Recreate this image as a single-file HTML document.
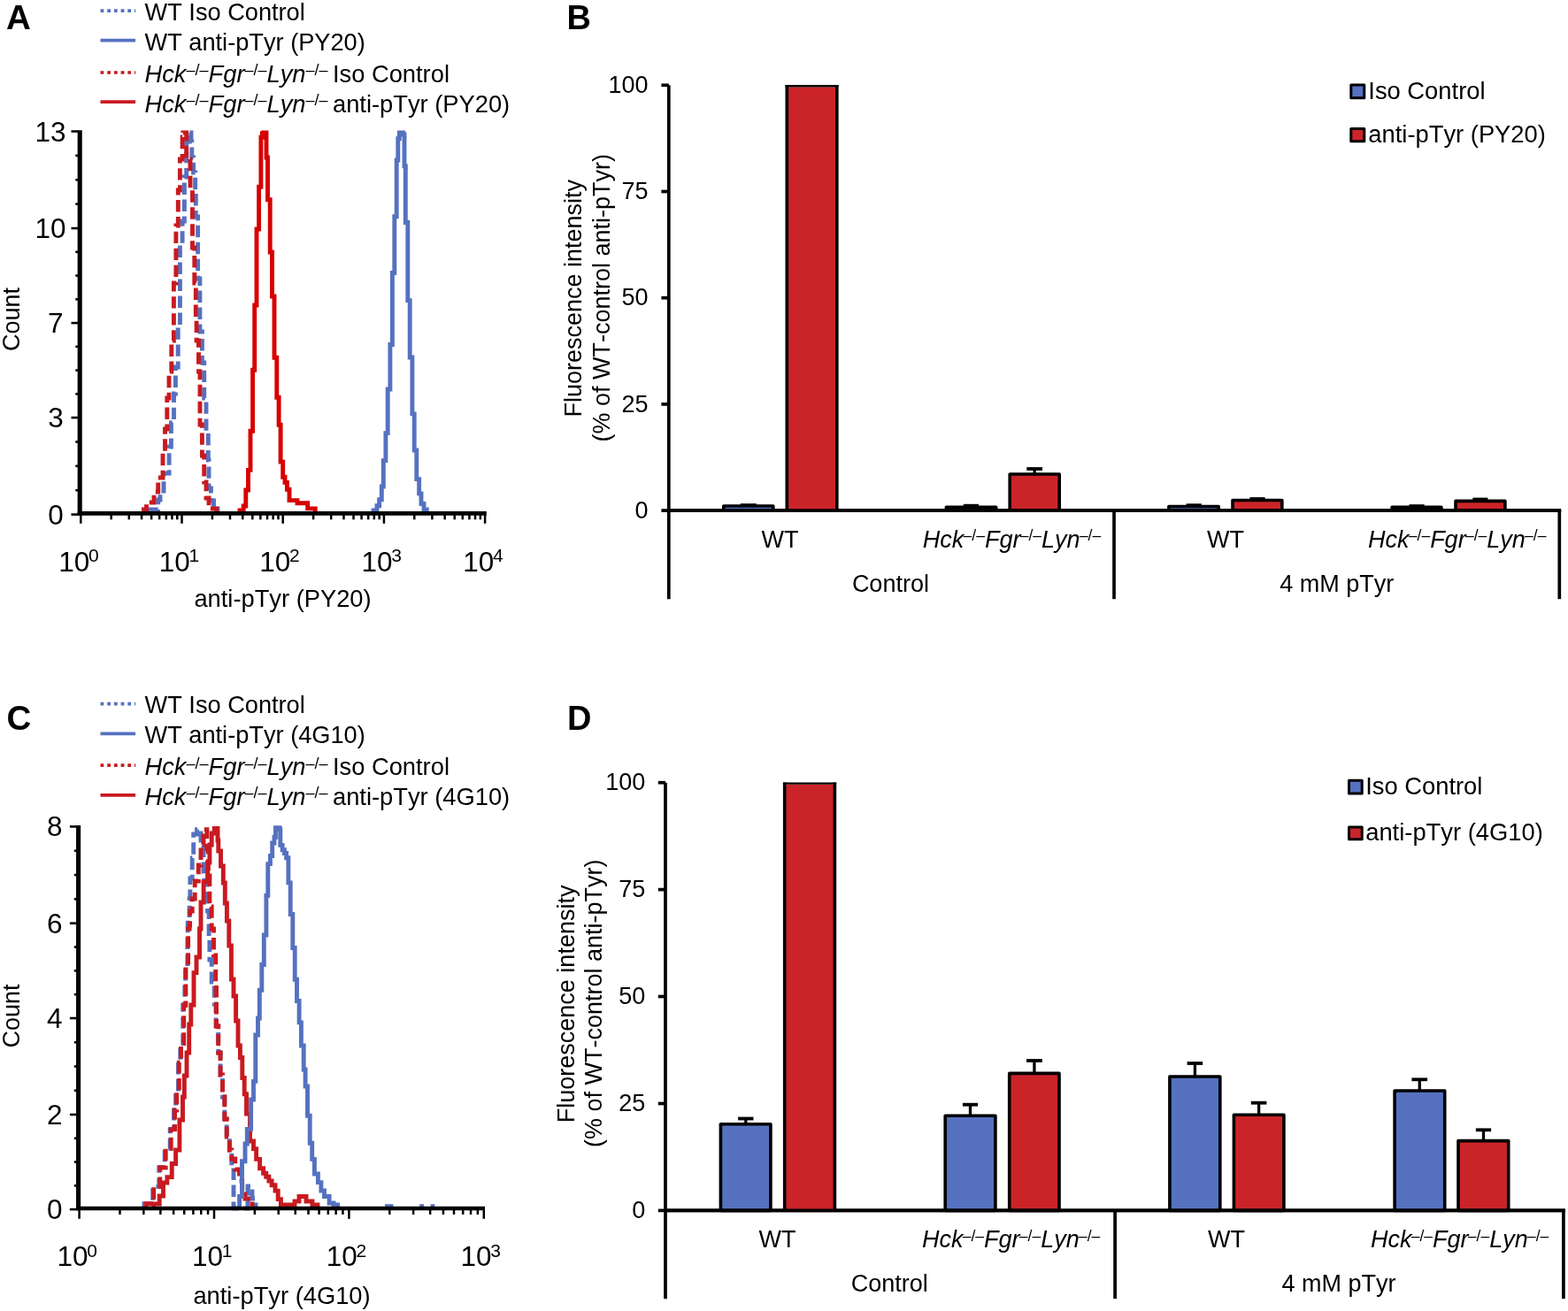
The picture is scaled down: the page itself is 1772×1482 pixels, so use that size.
<!DOCTYPE html>
<html><head><meta charset="utf-8"><title>Figure</title>
<style>html,body{margin:0;padding:0;background:#fff;}svg{display:block;font-kerning:none;}</style>
</head><body>
<svg width="1772" height="1482" viewBox="0 0 1772 1482" font-family="'Liberation Sans', sans-serif" fill="#000">
<rect x="0" y="0" width="1772" height="1482" fill="#fff"/>
<text x="7.1" y="32.5" font-size="38.5" text-anchor="start" font-weight="bold" font-style="normal">A</text>
<line x1="113.5" y1="12.2" x2="153.1" y2="12.2" stroke="#5571C0" stroke-width="3.7" stroke-dasharray="3.8 3.9"/>
<line x1="113.5" y1="45.7" x2="153.1" y2="45.7" stroke="#5571C0" stroke-width="3.7"/>
<line x1="113.5" y1="82" x2="153.1" y2="82" stroke="#C81A20" stroke-width="3.7" stroke-dasharray="3.8 3.9"/>
<line x1="113.5" y1="115.1" x2="153.1" y2="115.1" stroke="#C81A20" stroke-width="3.7"/>
<text x="163.5" y="22.6" font-size="27.2" text-anchor="start" font-weight="normal" font-style="normal">WT Iso Control</text>
<text x="163.5" y="56.8" font-size="27.2" text-anchor="start" font-weight="normal" font-style="normal">WT anti-pTyr (PY20)</text>
<text x="163.5" y="93" font-size="27.3"><tspan font-style="italic">Hck</tspan><tspan font-size="18" dx="0" dy="-7.6">–/–</tspan><tspan font-style="italic" dy="7.6">Fgr</tspan><tspan font-size="18" dx="0" dy="-7.6">–/–</tspan><tspan font-style="italic" dy="7.6">Lyn</tspan><tspan font-size="18" dx="0" dy="-7.6">–/–</tspan><tspan dx="-2.2" dy="7.6"> Iso Control</tspan></text>
<text x="163.5" y="126.6" font-size="27.3"><tspan font-style="italic">Hck</tspan><tspan font-size="18" dx="0" dy="-7.6">–/–</tspan><tspan font-style="italic" dy="7.6">Fgr</tspan><tspan font-size="18" dx="0" dy="-7.6">–/–</tspan><tspan font-style="italic" dy="7.6">Lyn</tspan><tspan font-size="18" dx="0" dy="-7.6">–/–</tspan><tspan dx="-2.2" dy="7.6"> anti-pTyr (PY20)</tspan></text>
<path d="M170,580.6 V576 H178.7 V565 H181 V555 H185 V535 H191.1 V505 H193.4 V478 H196.5 V445 H198.4 V415 H201.2 V370 H203.4 V280 H206.1 V250 H208.4 V200 H210.7 V160 H211.5 V150 H216 V160 H216.8 V178 H218.6 V195 H220.6 V215 H221.3 V245 H223.6 V315 H225.9 V375 H228.4 V410 H230.7 V450 H233 V490 H235.3 V520 H236 V552 H238.4 V566 H241.5 V575 H246 V580.6" fill="none" stroke="#5571C0" stroke-width="4.9" stroke-dasharray="13.4 5.6" stroke-linejoin="miter" stroke-linecap="butt"/>
<path d="M162.4,580.6 V576 H165.5 V568 H174 V556 H178.7 V540 H184 V510 H186.5 V485 H188.8 V450 H191 V420 H193.8 V385 H196.4 V320 H198.9 V255 H201.3 V215 H203.4 V180 H206.1 V155 H206.9 V150 H210.7 V180 H215 V215 H217.5 V280 H219.8 V320 H221.3 V360 H222.1 V385 H224.5 V420 H226 V480 H228.4 V515 H230.7 V545 H233 V563 H236 V575 H244.6 V580.6" fill="none" stroke="#C81A20" stroke-width="4.9" stroke-dasharray="13.4 5.6" stroke-linejoin="miter" stroke-linecap="butt"/>
<path d="M271,580.6 V577 H275.2 V572 H277.8 V554 H280.5 V531.4 H283 V487.2 H285.6 V418.2 H287.7 V345 H290 V259 H292.6 V211.3 H294.9 V155.2 H296.4 V150.6 H298 V150 H301 V178 H302.5 V225.7 H305.2 V285 H307.5 V335 H310 V404.2 H312.8 V449.2 H315.1 V480.2 H317.1 V522.1 H319.7 V539.2 H322 V545.4 H324.4 V553.2 H327 V565.6 H336 V568.7 H347.7 V574.9 H356.2 V580.6" fill="none" stroke="#D70000" stroke-width="4.9" stroke-linejoin="miter" stroke-linecap="butt"/>
<path d="M422,580.6 V577 H426 V571.8 H428.6 V564.8 H431.3 V550 H433.3 V520.6 H435.9 V489.6 H438.2 V440 H440.9 V389.5 H443.4 V308.5 H445.8 V244.7 H448.2 V181 H449.8 V156.7 H451.3 V150 H455.5 V152 H457 V187.8 H458.3 V251.5 H460.8 V339.6 H463.2 V404 H465.9 V467.9 H468.2 V509 H470.8 V541.6 H473.6 V557.9 H476 V569.5 H479 V576 H482.2 V580.6" fill="none" stroke="#5571C0" stroke-width="4.9" stroke-linejoin="miter" stroke-linecap="butt"/>
<line x1="90.2" y1="147.2" x2="90.2" y2="582.8" stroke="#000" stroke-width="5.1"/>
<line x1="87.65" y1="580.4" x2="549.8" y2="580.4" stroke="#000" stroke-width="4.8"/>
<line x1="80.5" y1="148.5" x2="88.3" y2="148.5" stroke="#000" stroke-width="2.6"/>
<line x1="85.3" y1="175.89" x2="88.3" y2="175.89" stroke="#000" stroke-width="2.6"/>
<line x1="85.3" y1="203.28" x2="88.3" y2="203.28" stroke="#000" stroke-width="2.6"/>
<line x1="85.3" y1="230.66" x2="88.3" y2="230.66" stroke="#000" stroke-width="2.6"/>
<line x1="80.5" y1="258.05" x2="88.3" y2="258.05" stroke="#000" stroke-width="2.6"/>
<line x1="85.3" y1="284.81" x2="88.3" y2="284.81" stroke="#000" stroke-width="2.6"/>
<line x1="85.3" y1="311.58" x2="88.3" y2="311.58" stroke="#000" stroke-width="2.6"/>
<line x1="85.3" y1="338.34" x2="88.3" y2="338.34" stroke="#000" stroke-width="2.6"/>
<line x1="80.5" y1="365.1" x2="88.3" y2="365.1" stroke="#000" stroke-width="2.6"/>
<line x1="85.3" y1="391.85" x2="88.3" y2="391.85" stroke="#000" stroke-width="2.6"/>
<line x1="85.3" y1="418.6" x2="88.3" y2="418.6" stroke="#000" stroke-width="2.6"/>
<line x1="85.3" y1="445.35" x2="88.3" y2="445.35" stroke="#000" stroke-width="2.6"/>
<line x1="80.5" y1="472.1" x2="88.3" y2="472.1" stroke="#000" stroke-width="2.6"/>
<line x1="85.3" y1="499.48" x2="88.3" y2="499.48" stroke="#000" stroke-width="2.6"/>
<line x1="85.3" y1="526.85" x2="88.3" y2="526.85" stroke="#000" stroke-width="2.6"/>
<line x1="85.3" y1="554.23" x2="88.3" y2="554.23" stroke="#000" stroke-width="2.6"/>
<line x1="80.5" y1="581.6" x2="88.3" y2="581.6" stroke="#000" stroke-width="2.6"/>
<line x1="91.3" y1="581.8" x2="91.3" y2="591.8" stroke="#000" stroke-width="2.5"/>
<line x1="125.68" y1="581.8" x2="125.68" y2="587.3" stroke="#000" stroke-width="2.5"/>
<line x1="145.79" y1="581.8" x2="145.79" y2="587.3" stroke="#000" stroke-width="2.5"/>
<line x1="160.06" y1="581.8" x2="160.06" y2="587.3" stroke="#000" stroke-width="2.5"/>
<line x1="171.12" y1="581.8" x2="171.12" y2="587.3" stroke="#000" stroke-width="2.5"/>
<line x1="180.16" y1="581.8" x2="180.16" y2="587.3" stroke="#000" stroke-width="2.5"/>
<line x1="187.81" y1="581.8" x2="187.81" y2="587.3" stroke="#000" stroke-width="2.5"/>
<line x1="194.43" y1="581.8" x2="194.43" y2="587.3" stroke="#000" stroke-width="2.5"/>
<line x1="200.27" y1="581.8" x2="200.27" y2="587.3" stroke="#000" stroke-width="2.5"/>
<line x1="205.5" y1="581.8" x2="205.5" y2="591.8" stroke="#000" stroke-width="2.5"/>
<line x1="239.88" y1="581.8" x2="239.88" y2="587.3" stroke="#000" stroke-width="2.5"/>
<line x1="259.99" y1="581.8" x2="259.99" y2="587.3" stroke="#000" stroke-width="2.5"/>
<line x1="274.26" y1="581.8" x2="274.26" y2="587.3" stroke="#000" stroke-width="2.5"/>
<line x1="285.32" y1="581.8" x2="285.32" y2="587.3" stroke="#000" stroke-width="2.5"/>
<line x1="294.36" y1="581.8" x2="294.36" y2="587.3" stroke="#000" stroke-width="2.5"/>
<line x1="302.01" y1="581.8" x2="302.01" y2="587.3" stroke="#000" stroke-width="2.5"/>
<line x1="308.63" y1="581.8" x2="308.63" y2="587.3" stroke="#000" stroke-width="2.5"/>
<line x1="314.47" y1="581.8" x2="314.47" y2="587.3" stroke="#000" stroke-width="2.5"/>
<line x1="319.7" y1="581.8" x2="319.7" y2="591.8" stroke="#000" stroke-width="2.5"/>
<line x1="354.08" y1="581.8" x2="354.08" y2="587.3" stroke="#000" stroke-width="2.5"/>
<line x1="374.19" y1="581.8" x2="374.19" y2="587.3" stroke="#000" stroke-width="2.5"/>
<line x1="388.46" y1="581.8" x2="388.46" y2="587.3" stroke="#000" stroke-width="2.5"/>
<line x1="399.52" y1="581.8" x2="399.52" y2="587.3" stroke="#000" stroke-width="2.5"/>
<line x1="408.56" y1="581.8" x2="408.56" y2="587.3" stroke="#000" stroke-width="2.5"/>
<line x1="416.21" y1="581.8" x2="416.21" y2="587.3" stroke="#000" stroke-width="2.5"/>
<line x1="422.83" y1="581.8" x2="422.83" y2="587.3" stroke="#000" stroke-width="2.5"/>
<line x1="428.67" y1="581.8" x2="428.67" y2="587.3" stroke="#000" stroke-width="2.5"/>
<line x1="433.9" y1="581.8" x2="433.9" y2="591.8" stroke="#000" stroke-width="2.5"/>
<line x1="468.28" y1="581.8" x2="468.28" y2="587.3" stroke="#000" stroke-width="2.5"/>
<line x1="488.39" y1="581.8" x2="488.39" y2="587.3" stroke="#000" stroke-width="2.5"/>
<line x1="502.66" y1="581.8" x2="502.66" y2="587.3" stroke="#000" stroke-width="2.5"/>
<line x1="513.72" y1="581.8" x2="513.72" y2="587.3" stroke="#000" stroke-width="2.5"/>
<line x1="522.76" y1="581.8" x2="522.76" y2="587.3" stroke="#000" stroke-width="2.5"/>
<line x1="530.41" y1="581.8" x2="530.41" y2="587.3" stroke="#000" stroke-width="2.5"/>
<line x1="537.03" y1="581.8" x2="537.03" y2="587.3" stroke="#000" stroke-width="2.5"/>
<line x1="542.87" y1="581.8" x2="542.87" y2="587.3" stroke="#000" stroke-width="2.5"/>
<line x1="548.1" y1="581.8" x2="548.1" y2="591.8" stroke="#000" stroke-width="2.5"/>
<text x="74.5" y="159.7" font-size="31.5" text-anchor="end">13</text>
<text x="74.5" y="269.25" font-size="31.5" text-anchor="end">10</text>
<text x="71.5" y="376.3" font-size="31.5" text-anchor="end">7</text>
<text x="71.8" y="483.3" font-size="31.5" text-anchor="end">3</text>
<text x="71.8" y="592.8" font-size="31.5" text-anchor="end">0</text>
<text x="66.3" y="645.5" font-size="31.5">10<tspan font-size="21" dx="-1.3" dy="-10.2">0</tspan></text>
<text x="179.8" y="645.5" font-size="31.5">10<tspan font-size="21" dx="-1.3" dy="-10.2">1</tspan></text>
<text x="293.3" y="645.5" font-size="31.5">10<tspan font-size="21" dx="-1.3" dy="-10.2">2</tspan></text>
<text x="408.5" y="645.5" font-size="31.5">10<tspan font-size="21" dx="-1.3" dy="-10.2">3</tspan></text>
<text x="523.2" y="645.5" font-size="31.5">10<tspan font-size="21" dx="-1.3" dy="-10.2">4</tspan></text>
<text x="319.5" y="686" font-size="27.3" text-anchor="middle" font-weight="normal" font-style="normal">anti-pTyr (PY20)</text>
<text transform="translate(22.3,361) rotate(-90)" font-size="27" text-anchor="middle">Count</text>
<text x="7.6" y="824.8" font-size="38.5" text-anchor="start" font-weight="bold" font-style="normal">C</text>
<line x1="113.5" y1="795.7" x2="153.1" y2="795.7" stroke="#5571C0" stroke-width="3.7" stroke-dasharray="3.8 3.9"/>
<line x1="113.5" y1="829.3" x2="153.1" y2="829.3" stroke="#5571C0" stroke-width="3.7"/>
<line x1="113.5" y1="865.2" x2="153.1" y2="865.2" stroke="#C81A20" stroke-width="3.7" stroke-dasharray="3.8 3.9"/>
<line x1="113.5" y1="898.8" x2="153.1" y2="898.8" stroke="#C81A20" stroke-width="3.7"/>
<text x="163.5" y="805.7" font-size="27.2" text-anchor="start" font-weight="normal" font-style="normal">WT Iso Control</text>
<text x="163.5" y="840.2" font-size="27.2" text-anchor="start" font-weight="normal" font-style="normal">WT anti-pTyr (4G10)</text>
<text x="163.5" y="876.3" font-size="27.3"><tspan font-style="italic">Hck</tspan><tspan font-size="18" dx="0" dy="-7.6">–/–</tspan><tspan font-style="italic" dy="7.6">Fgr</tspan><tspan font-size="18" dx="0" dy="-7.6">–/–</tspan><tspan font-style="italic" dy="7.6">Lyn</tspan><tspan font-size="18" dx="0" dy="-7.6">–/–</tspan><tspan dx="-2.2" dy="7.6"> Iso Control</tspan></text>
<text x="163.5" y="909.9" font-size="27.3"><tspan font-style="italic">Hck</tspan><tspan font-size="18" dx="0" dy="-7.6">–/–</tspan><tspan font-style="italic" dy="7.6">Fgr</tspan><tspan font-size="18" dx="0" dy="-7.6">–/–</tspan><tspan font-style="italic" dy="7.6">Lyn</tspan><tspan font-size="18" dx="0" dy="-7.6">–/–</tspan><tspan dx="-2.2" dy="7.6"> anti-pTyr (4G10)</tspan></text>
<path d="M163,1366 V1360.8 H172.7 V1341.4 H179.8 V1319.8 H186.2 V1298.2 H192.2 V1276.6 H196.5 V1255 H198.6 V1233.5 H201.5 V1201.1 H203.8 V1179.5 H206.8 V1136.3 H208.8 V1110 H209.6 V1092 H211.9 V1062 H212.2 V1039 H214.1 V1016 H214.9 V993 H217.2 V970 H218.7 V943 H222.5 V937.8 H227 V950 H230 V985 H230.8 V1000 H234.6 V1030 H236.1 V1060 H236.9 V1085 H239.2 V1110 H242.2 V1135 H244 V1160 H246.7 V1190 H249.1 V1215 H251.5 V1240 H253.8 V1265 H256.2 V1285 H259.4 V1300 H261.8 V1320 H264 V1366 H280 V1341 H285 V1355 H289 V1366" fill="none" stroke="#5571C0" stroke-width="4.9" stroke-dasharray="13.4 5.6" stroke-linejoin="miter" stroke-linecap="butt"/>
<path d="M173.7,1366 V1361 H180.2 V1352 H184.5 V1337 H188.9 V1330.6 H194.2 V1315.5 H198.6 V1300 H202.9 V1266 H206.5 V1240 H208.3 V1216 H211 V1190 H213.7 V1158 H215.8 V1136 H219 V1099.6 H222 V1082 H225.5 V1050 H227 V1020 H230.1 V997 H234.6 V975 H236.9 V955 H239.2 V942 H242.2 V936.5 H246 V950 H246.8 V962 H249.5 V979 H252.3 V998 H254.3 V1021 H256.4 V1041 H258.8 V1069 H261.4 V1107 H264 V1126 H266.6 V1154 H269 V1182 H271.4 V1195.5 H273.8 V1218.5 H276.2 V1236.7 H278.5 V1259 H282.5 V1290 H286.5 V1298.6 H289.6 V1310.4 H293.6 V1320.8 H297.6 V1326.3 H300.7 V1330.3 H303.9 V1335 H307.1 V1339.8 H311 V1346.1 H314.2 V1355.6 H317.4 V1362 H333 V1358 H338 V1352.5 H346 V1358 H353 V1362 H359 V1366" fill="none" stroke="#C81A20" stroke-width="4.9" stroke-linejoin="miter" stroke-linecap="butt"/>
<path d="M165,1366 V1360.8 H173.7 V1341.4 H180.8 V1319.8 H187.2 V1298.2 H193.2 V1276.6 H197.5 V1255 H199.6 V1233.5 H202.3 V1201.1 H204.5 V1179.5 H207.7 V1136.3 H209.9 V1093.2 H212.6 V1050 H214.1 V1046 H214.6 V1030 H217.2 V1016 H220.2 V996 H224.3 V978 H227 V955 H230 V937.8 H233.9 V960 H235.4 V990 H236.9 V1025 H239.2 V1050 H241.5 V1080 H243.7 V1110 H244.5 V1160 H246.7 V1190 H249.1 V1215 H251.5 V1240 H253.8 V1265 H256.2 V1285 H259.4 V1300 H261.8 V1310 H265.7 V1322 H270.5 V1335 H273.7 V1350 H277 V1355 H285 V1366" fill="none" stroke="#C81A20" stroke-width="4.9" stroke-dasharray="13.4 5.6" stroke-linejoin="miter" stroke-linecap="butt"/>
<path d="M270.6,1366 V1352.5 H273.5 V1312.8 H277 V1293 H279.3 V1276.4 H283.6 V1243 H286.5 V1222.4 H288.8 V1170 H291.5 V1151 H293.3 V1119.3 H295.8 V1090.5 H298.3 V1057 H300.9 V1012.3 H302.8 V976.6 H305.4 V967.5 H307.7 V953 H310 V946.3 H311.5 V935.8 H316 V937.5 H316.8 V955.4 H319.1 V960.7 H321.4 V964.5 H323.6 V969.8 H325.9 V997.9 H328.2 V1033.5 H330.8 V1071.5 H333.2 V1107.2 H335.5 V1131.5 H338.1 V1155.9 H340.4 V1182 H343.2 V1209 H345.1 V1228 H347.5 V1261.3 H350.2 V1292.2 H352.7 V1310.4 H355.4 V1327 H359.4 V1336.6 H362.9 V1346 H366.5 V1352.5 H372.1 V1360 H377 V1362 H381.6 V1366" fill="none" stroke="#5571C0" stroke-width="4.9" stroke-linejoin="miter" stroke-linecap="butt"/>
<rect x="435" y="1361.2" width="9.4" height="3" fill="#5571C0"/>
<rect x="474.2" y="1361.2" width="4.9" height="3" fill="#5571C0"/>
<rect x="486.6" y="1361.2" width="4.7" height="3" fill="#5571C0"/>
<line x1="88.6" y1="933.1" x2="88.6" y2="1368.3" stroke="#000" stroke-width="5.1"/>
<line x1="86.05" y1="1366" x2="548" y2="1366" stroke="#000" stroke-width="4.6"/>
<line x1="78.9" y1="934.4" x2="86.8" y2="934.4" stroke="#000" stroke-width="2.6"/>
<line x1="83.8" y1="961.73" x2="86.8" y2="961.73" stroke="#000" stroke-width="2.6"/>
<line x1="83.8" y1="989.05" x2="86.8" y2="989.05" stroke="#000" stroke-width="2.6"/>
<line x1="83.8" y1="1016.38" x2="86.8" y2="1016.38" stroke="#000" stroke-width="2.6"/>
<line x1="78.9" y1="1043.7" x2="86.8" y2="1043.7" stroke="#000" stroke-width="2.6"/>
<line x1="83.8" y1="1070.53" x2="86.8" y2="1070.53" stroke="#000" stroke-width="2.6"/>
<line x1="83.8" y1="1097.35" x2="86.8" y2="1097.35" stroke="#000" stroke-width="2.6"/>
<line x1="83.8" y1="1124.17" x2="86.8" y2="1124.17" stroke="#000" stroke-width="2.6"/>
<line x1="78.9" y1="1151" x2="86.8" y2="1151" stroke="#000" stroke-width="2.6"/>
<line x1="83.8" y1="1178.25" x2="86.8" y2="1178.25" stroke="#000" stroke-width="2.6"/>
<line x1="83.8" y1="1205.5" x2="86.8" y2="1205.5" stroke="#000" stroke-width="2.6"/>
<line x1="83.8" y1="1232.75" x2="86.8" y2="1232.75" stroke="#000" stroke-width="2.6"/>
<line x1="78.9" y1="1260" x2="86.8" y2="1260" stroke="#000" stroke-width="2.6"/>
<line x1="83.8" y1="1286.78" x2="86.8" y2="1286.78" stroke="#000" stroke-width="2.6"/>
<line x1="83.8" y1="1313.55" x2="86.8" y2="1313.55" stroke="#000" stroke-width="2.6"/>
<line x1="83.8" y1="1340.32" x2="86.8" y2="1340.32" stroke="#000" stroke-width="2.6"/>
<line x1="78.9" y1="1367.1" x2="86.8" y2="1367.1" stroke="#000" stroke-width="2.6"/>
<line x1="89.6" y1="1367.3" x2="89.6" y2="1377.8" stroke="#000" stroke-width="2.5"/>
<line x1="135.48" y1="1367.3" x2="135.48" y2="1372.9" stroke="#000" stroke-width="2.5"/>
<line x1="162.31" y1="1367.3" x2="162.31" y2="1372.9" stroke="#000" stroke-width="2.5"/>
<line x1="181.35" y1="1367.3" x2="181.35" y2="1372.9" stroke="#000" stroke-width="2.5"/>
<line x1="196.12" y1="1367.3" x2="196.12" y2="1372.9" stroke="#000" stroke-width="2.5"/>
<line x1="208.19" y1="1367.3" x2="208.19" y2="1372.9" stroke="#000" stroke-width="2.5"/>
<line x1="218.39" y1="1367.3" x2="218.39" y2="1372.9" stroke="#000" stroke-width="2.5"/>
<line x1="227.23" y1="1367.3" x2="227.23" y2="1372.9" stroke="#000" stroke-width="2.5"/>
<line x1="235.03" y1="1367.3" x2="235.03" y2="1372.9" stroke="#000" stroke-width="2.5"/>
<line x1="242" y1="1367.3" x2="242" y2="1377.8" stroke="#000" stroke-width="2.5"/>
<line x1="287.88" y1="1367.3" x2="287.88" y2="1372.9" stroke="#000" stroke-width="2.5"/>
<line x1="314.71" y1="1367.3" x2="314.71" y2="1372.9" stroke="#000" stroke-width="2.5"/>
<line x1="333.75" y1="1367.3" x2="333.75" y2="1372.9" stroke="#000" stroke-width="2.5"/>
<line x1="348.52" y1="1367.3" x2="348.52" y2="1372.9" stroke="#000" stroke-width="2.5"/>
<line x1="360.59" y1="1367.3" x2="360.59" y2="1372.9" stroke="#000" stroke-width="2.5"/>
<line x1="370.79" y1="1367.3" x2="370.79" y2="1372.9" stroke="#000" stroke-width="2.5"/>
<line x1="379.63" y1="1367.3" x2="379.63" y2="1372.9" stroke="#000" stroke-width="2.5"/>
<line x1="387.43" y1="1367.3" x2="387.43" y2="1372.9" stroke="#000" stroke-width="2.5"/>
<line x1="394.4" y1="1367.3" x2="394.4" y2="1377.8" stroke="#000" stroke-width="2.5"/>
<line x1="440.28" y1="1367.3" x2="440.28" y2="1372.9" stroke="#000" stroke-width="2.5"/>
<line x1="467.11" y1="1367.3" x2="467.11" y2="1372.9" stroke="#000" stroke-width="2.5"/>
<line x1="486.15" y1="1367.3" x2="486.15" y2="1372.9" stroke="#000" stroke-width="2.5"/>
<line x1="500.92" y1="1367.3" x2="500.92" y2="1372.9" stroke="#000" stroke-width="2.5"/>
<line x1="512.99" y1="1367.3" x2="512.99" y2="1372.9" stroke="#000" stroke-width="2.5"/>
<line x1="523.19" y1="1367.3" x2="523.19" y2="1372.9" stroke="#000" stroke-width="2.5"/>
<line x1="532.03" y1="1367.3" x2="532.03" y2="1372.9" stroke="#000" stroke-width="2.5"/>
<line x1="539.83" y1="1367.3" x2="539.83" y2="1372.9" stroke="#000" stroke-width="2.5"/>
<line x1="546.8" y1="1367.3" x2="546.8" y2="1377.8" stroke="#000" stroke-width="2.5"/>
<text x="70.5" y="945.3" font-size="31.5" text-anchor="end">8</text>
<text x="70.5" y="1054.6" font-size="31.5" text-anchor="end">6</text>
<text x="70.5" y="1161.9" font-size="31.5" text-anchor="end">4</text>
<text x="70.5" y="1270.9" font-size="31.5" text-anchor="end">2</text>
<text x="70.5" y="1378" font-size="31.5" text-anchor="end">0</text>
<text x="64.5" y="1430.8" font-size="31.5">10<tspan font-size="21" dx="-1.3" dy="-10.2">0</tspan></text>
<text x="217.1" y="1430.8" font-size="31.5">10<tspan font-size="21" dx="-1.3" dy="-10.2">1</tspan></text>
<text x="368.8" y="1430.8" font-size="31.5">10<tspan font-size="21" dx="-1.3" dy="-10.2">2</tspan></text>
<text x="520.4" y="1430.8" font-size="31.5">10<tspan font-size="21" dx="-1.3" dy="-10.2">3</tspan></text>
<text x="318.5" y="1473.9" font-size="27.3" text-anchor="middle" font-weight="normal" font-style="normal">anti-pTyr (4G10)</text>
<text transform="translate(22.3,1148.5) rotate(-90)" font-size="27" text-anchor="middle">Count</text>
<line x1="755.8" y1="96.2" x2="755.8" y2="677.2" stroke="#000" stroke-width="3.7"/>
<line x1="753.95" y1="577.1" x2="1764.15" y2="577.1" stroke="#000" stroke-width="3.7"/>
<line x1="1259" y1="577.1" x2="1259" y2="677.2" stroke="#000" stroke-width="3.7"/>
<line x1="1762.3" y1="577.1" x2="1762.3" y2="677.2" stroke="#000" stroke-width="3.7"/>
<line x1="747.4" y1="96.3" x2="755.8" y2="96.3" stroke="#000" stroke-width="3.7"/>
<line x1="747.4" y1="216.5" x2="755.8" y2="216.5" stroke="#000" stroke-width="3.7"/>
<line x1="747.4" y1="336.7" x2="755.8" y2="336.7" stroke="#000" stroke-width="3.7"/>
<line x1="747.4" y1="456.9" x2="755.8" y2="456.9" stroke="#000" stroke-width="3.7"/>
<line x1="747.4" y1="577.1" x2="755.8" y2="577.1" stroke="#000" stroke-width="3.7"/>
<text x="732.5" y="105" font-size="27" text-anchor="end" font-weight="normal" font-style="normal">100</text>
<text x="732.5" y="225.2" font-size="27" text-anchor="end" font-weight="normal" font-style="normal">75</text>
<text x="732.5" y="345.4" font-size="27" text-anchor="end" font-weight="normal" font-style="normal">50</text>
<text x="732.5" y="465.6" font-size="27" text-anchor="end" font-weight="normal" font-style="normal">25</text>
<text x="732.5" y="585.8" font-size="27" text-anchor="end" font-weight="normal" font-style="normal">0</text>
<line x1="845.8" y1="571.2" x2="845.8" y2="571.1" stroke="#000" stroke-width="3.3"/>
<line x1="836.8" y1="571.1" x2="854.8" y2="571.1" stroke="#000" stroke-width="3.8"/>
<rect x="817.8" y="572" width="56" height="5.1" fill="#5571C0" stroke="#000" stroke-width="3.6" stroke-linejoin="round"/>
<rect x="889.3" y="98.4" width="56.5" height="478.7" fill="#CA2429"/>
<line x1="889.3" y1="96.1" x2="889.3" y2="577.1" stroke="#000" stroke-width="3.6"/>
<line x1="945.8" y1="96.1" x2="945.8" y2="577.1" stroke="#000" stroke-width="3.6"/>
<line x1="887.5" y1="97.25" x2="947.6" y2="97.25" stroke="#000" stroke-width="2.3"/>
<line x1="1097.4" y1="572.4" x2="1097.4" y2="571.7" stroke="#000" stroke-width="3.3"/>
<line x1="1088.8" y1="571.7" x2="1106" y2="571.7" stroke="#000" stroke-width="3.8"/>
<rect x="1069.4" y="573.2" width="56.3" height="3.9" fill="#5571C0" stroke="#000" stroke-width="3.6" stroke-linejoin="round"/>
<line x1="1169.15" y1="535.2" x2="1169.15" y2="530" stroke="#000" stroke-width="3.3"/>
<line x1="1160.3" y1="530" x2="1178" y2="530" stroke="#000" stroke-width="3.8"/>
<rect x="1141.2" y="536" width="56" height="41.1" fill="#CA2429" stroke="#000" stroke-width="3.6" stroke-linejoin="round"/>
<line x1="1349.2" y1="571.7" x2="1349.2" y2="571.2" stroke="#000" stroke-width="3.3"/>
<line x1="1340.6" y1="571.2" x2="1357.8" y2="571.2" stroke="#000" stroke-width="3.8"/>
<rect x="1320.9" y="572.5" width="56.3" height="4.6" fill="#5571C0" stroke="#000" stroke-width="3.6" stroke-linejoin="round"/>
<line x1="1421" y1="564.7" x2="1421" y2="564" stroke="#000" stroke-width="3.3"/>
<line x1="1412.4" y1="564" x2="1429.6" y2="564" stroke="#000" stroke-width="3.8"/>
<rect x="1393" y="565.5" width="55.8" height="11.6" fill="#CA2429" stroke="#000" stroke-width="3.6" stroke-linejoin="round"/>
<line x1="1601.1" y1="572.6" x2="1601.1" y2="572.1" stroke="#000" stroke-width="3.3"/>
<line x1="1592.5" y1="572.1" x2="1609.7" y2="572.1" stroke="#000" stroke-width="3.8"/>
<rect x="1573.1" y="573.4" width="55.8" height="3.7" fill="#5571C0" stroke="#000" stroke-width="3.6" stroke-linejoin="round"/>
<line x1="1672.85" y1="565.6" x2="1672.85" y2="564.5" stroke="#000" stroke-width="3.3"/>
<line x1="1664.3" y1="564.5" x2="1681.4" y2="564.5" stroke="#000" stroke-width="3.8"/>
<rect x="1645" y="566.4" width="55.9" height="10.7" fill="#CA2429" stroke="#000" stroke-width="3.6" stroke-linejoin="round"/>
<line x1="753.95" y1="577.1" x2="1764.15" y2="577.1" stroke="#000" stroke-width="3.7"/>
<rect x="1526.8" y="96.1" width="15" height="14.6" fill="#5571C0" stroke="#000" stroke-width="3" stroke-linejoin="round"/>
<rect x="1526.8" y="145.5" width="15" height="14.3" fill="#CA2429" stroke="#000" stroke-width="3" stroke-linejoin="round"/>
<text x="1546.3" y="112.2" font-size="27.35" text-anchor="start" font-weight="normal" font-style="normal">Iso Control</text>
<text x="1546.3" y="161.3" font-size="27.35" text-anchor="start" font-weight="normal" font-style="normal">anti-pTyr (PY20)</text>
<text x="881.5" y="618.6" font-size="27" text-anchor="middle" font-weight="normal" font-style="normal">WT</text>
<text x="1385" y="618.6" font-size="27" text-anchor="middle" font-weight="normal" font-style="normal">WT</text>
<text x="1042.8" y="618.6" font-size="27"><tspan font-style="italic">Hck</tspan><tspan font-size="17.5" dx="-0.7" dy="-7.6">–/–</tspan><tspan font-style="italic" dy="7.6">Fgr</tspan><tspan font-size="17.5" dx="-0.7" dy="-7.6">–/–</tspan><tspan font-style="italic" dy="7.6">Lyn</tspan><tspan font-size="17.5" dx="-0.7" dy="-7.6">–/–</tspan></text>
<text x="1546" y="618.6" font-size="27"><tspan font-style="italic">Hck</tspan><tspan font-size="17.5" dx="-0.7" dy="-7.6">–/–</tspan><tspan font-style="italic" dy="7.6">Fgr</tspan><tspan font-size="17.5" dx="-0.7" dy="-7.6">–/–</tspan><tspan font-style="italic" dy="7.6">Lyn</tspan><tspan font-size="17.5" dx="-0.7" dy="-7.6">–/–</tspan></text>
<text x="1006.4" y="668.5" font-size="27" text-anchor="middle" font-weight="normal" font-style="normal">Control</text>
<text x="1510.7" y="668.5" font-size="27" text-anchor="middle" font-weight="normal" font-style="normal">4 mM pTyr</text>
<text transform="translate(657.1,337.2) rotate(-90)" font-size="27" text-anchor="middle">Fluorescence intensity</text>
<text transform="translate(688.8,336.8) rotate(-90)" font-size="27" text-anchor="middle">(% of WT-control anti-pTyr)</text>
<text x="640.4" y="32.5" font-size="38" text-anchor="start" font-weight="bold" font-style="normal">B</text>
<line x1="752" y1="884.8" x2="752" y2="1468.2" stroke="#000" stroke-width="3.7"/>
<line x1="750.15" y1="1368.4" x2="1768.75" y2="1368.4" stroke="#000" stroke-width="3.7"/>
<line x1="1260.1" y1="1368.4" x2="1260.1" y2="1468.2" stroke="#000" stroke-width="3.7"/>
<line x1="1766.9" y1="1368.4" x2="1766.9" y2="1468.2" stroke="#000" stroke-width="3.7"/>
<line x1="743.8" y1="884.7" x2="752" y2="884.7" stroke="#000" stroke-width="3.7"/>
<line x1="743.8" y1="1005.6" x2="752" y2="1005.6" stroke="#000" stroke-width="3.7"/>
<line x1="743.8" y1="1126.5" x2="752" y2="1126.5" stroke="#000" stroke-width="3.7"/>
<line x1="743.8" y1="1247.5" x2="752" y2="1247.5" stroke="#000" stroke-width="3.7"/>
<line x1="743.8" y1="1368.4" x2="752" y2="1368.4" stroke="#000" stroke-width="3.7"/>
<text x="729.2" y="893.4" font-size="27" text-anchor="end" font-weight="normal" font-style="normal">100</text>
<text x="729.2" y="1014.3" font-size="27" text-anchor="end" font-weight="normal" font-style="normal">75</text>
<text x="729.2" y="1135.2" font-size="27" text-anchor="end" font-weight="normal" font-style="normal">50</text>
<text x="729.2" y="1256.2" font-size="27" text-anchor="end" font-weight="normal" font-style="normal">25</text>
<text x="729.2" y="1377.1" font-size="27" text-anchor="end" font-weight="normal" font-style="normal">0</text>
<line x1="842.8" y1="1269.9" x2="842.8" y2="1264.5" stroke="#000" stroke-width="3.3"/>
<line x1="834.1" y1="1264.5" x2="851.5" y2="1264.5" stroke="#000" stroke-width="3.8"/>
<rect x="814.4" y="1270.7" width="56.5" height="97.7" fill="#5571C0" stroke="#000" stroke-width="3.6" stroke-linejoin="round"/>
<rect x="886.7" y="886.8" width="56.7" height="481.6" fill="#CA2429"/>
<line x1="886.7" y1="884.5" x2="886.7" y2="1368.4" stroke="#000" stroke-width="3.6"/>
<line x1="943.4" y1="884.5" x2="943.4" y2="1368.4" stroke="#000" stroke-width="3.6"/>
<line x1="884.9" y1="885.65" x2="945.2" y2="885.65" stroke="#000" stroke-width="2.3"/>
<line x1="1096.5" y1="1260.5" x2="1096.5" y2="1248.7" stroke="#000" stroke-width="3.3"/>
<line x1="1087.9" y1="1248.7" x2="1105.1" y2="1248.7" stroke="#000" stroke-width="3.8"/>
<rect x="1068.2" y="1261.3" width="56.7" height="107.1" fill="#5571C0" stroke="#000" stroke-width="3.6" stroke-linejoin="round"/>
<line x1="1168.9" y1="1212.6" x2="1168.9" y2="1199" stroke="#000" stroke-width="3.3"/>
<line x1="1160" y1="1199" x2="1177.8" y2="1199" stroke="#000" stroke-width="3.8"/>
<rect x="1140.7" y="1213.4" width="56.3" height="155" fill="#CA2429" stroke="#000" stroke-width="3.6" stroke-linejoin="round"/>
<line x1="1350.4" y1="1216.2" x2="1350.4" y2="1202" stroke="#000" stroke-width="3.3"/>
<line x1="1341.6" y1="1202" x2="1359.2" y2="1202" stroke="#000" stroke-width="3.8"/>
<rect x="1321.9" y="1217" width="56.9" height="151.4" fill="#5571C0" stroke="#000" stroke-width="3.6" stroke-linejoin="round"/>
<line x1="1422.6" y1="1259.4" x2="1422.6" y2="1246.7" stroke="#000" stroke-width="3.3"/>
<line x1="1413.8" y1="1246.7" x2="1431.4" y2="1246.7" stroke="#000" stroke-width="3.8"/>
<rect x="1394.4" y="1260.2" width="56.5" height="108.2" fill="#CA2429" stroke="#000" stroke-width="3.6" stroke-linejoin="round"/>
<line x1="1604.25" y1="1232.2" x2="1604.25" y2="1220.3" stroke="#000" stroke-width="3.3"/>
<line x1="1595.4" y1="1220.3" x2="1613.1" y2="1220.3" stroke="#000" stroke-width="3.8"/>
<rect x="1576.1" y="1233" width="56.6" height="135.4" fill="#5571C0" stroke="#000" stroke-width="3.6" stroke-linejoin="round"/>
<line x1="1676.5" y1="1288.8" x2="1676.5" y2="1277.3" stroke="#000" stroke-width="3.3"/>
<line x1="1667.9" y1="1277.3" x2="1685.1" y2="1277.3" stroke="#000" stroke-width="3.8"/>
<rect x="1648" y="1289.6" width="56.7" height="78.8" fill="#CA2429" stroke="#000" stroke-width="3.6" stroke-linejoin="round"/>
<line x1="750.15" y1="1368.4" x2="1768.75" y2="1368.4" stroke="#000" stroke-width="3.7"/>
<rect x="1524.5" y="882.2" width="14.7" height="14.7" fill="#5571C0" stroke="#000" stroke-width="3" stroke-linejoin="round"/>
<rect x="1524.5" y="934.9" width="14.7" height="13.9" fill="#CA2429" stroke="#000" stroke-width="3" stroke-linejoin="round"/>
<text x="1543.2" y="898.1" font-size="27.35" text-anchor="start" font-weight="normal" font-style="normal">Iso Control</text>
<text x="1543.2" y="950.3" font-size="27.35" text-anchor="start" font-weight="normal" font-style="normal">anti-pTyr (4G10)</text>
<text x="878.5" y="1410.2" font-size="27" text-anchor="middle" font-weight="normal" font-style="normal">WT</text>
<text x="1386" y="1410.2" font-size="27" text-anchor="middle" font-weight="normal" font-style="normal">WT</text>
<text x="1041.9" y="1410.2" font-size="27"><tspan font-style="italic">Hck</tspan><tspan font-size="17.5" dx="-0.7" dy="-7.6">–/–</tspan><tspan font-style="italic" dy="7.6">Fgr</tspan><tspan font-size="17.5" dx="-0.7" dy="-7.6">–/–</tspan><tspan font-style="italic" dy="7.6">Lyn</tspan><tspan font-size="17.5" dx="-0.7" dy="-7.6">–/–</tspan></text>
<text x="1548.9" y="1410.2" font-size="27"><tspan font-style="italic">Hck</tspan><tspan font-size="17.5" dx="-0.7" dy="-7.6">–/–</tspan><tspan font-style="italic" dy="7.6">Fgr</tspan><tspan font-size="17.5" dx="-0.7" dy="-7.6">–/–</tspan><tspan font-style="italic" dy="7.6">Lyn</tspan><tspan font-size="17.5" dx="-0.7" dy="-7.6">–/–</tspan></text>
<text x="1005.25" y="1459.8" font-size="27" text-anchor="middle" font-weight="normal" font-style="normal">Control</text>
<text x="1513" y="1459.8" font-size="27" text-anchor="middle" font-weight="normal" font-style="normal">4 mM pTyr</text>
<text transform="translate(648.5,1134.9) rotate(-90)" font-size="27" text-anchor="middle">Fluorescence intensity</text>
<text transform="translate(679.8,1134.2) rotate(-90)" font-size="27" text-anchor="middle">(% of WT-control anti-pTyr)</text>
<text x="640.9" y="824.9" font-size="38" text-anchor="start" font-weight="bold" font-style="normal">D</text>
</svg>
</body></html>
